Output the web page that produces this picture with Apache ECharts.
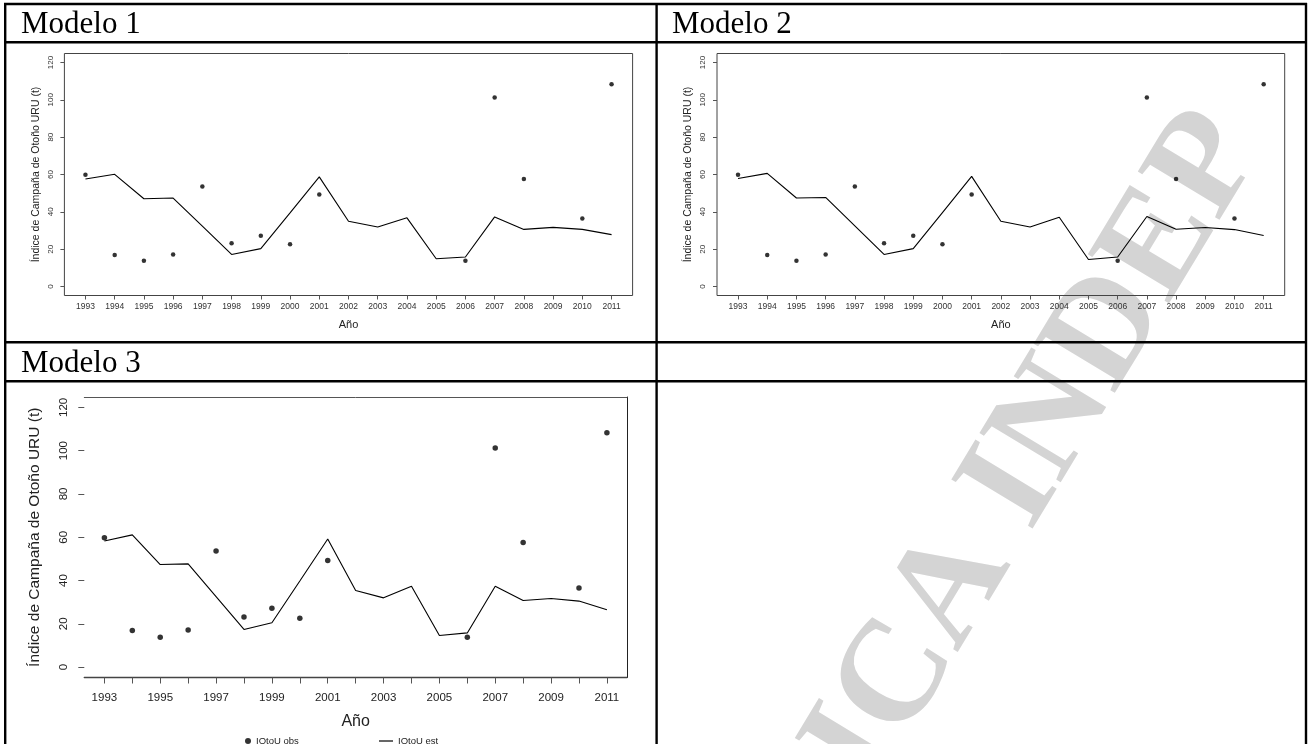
<!DOCTYPE html>
<html>
<head>
<meta charset="utf-8">
<script src="https://cdn.jsdelivr.net/npm/echarts@6/dist/echarts.min.js"></script>
<style>
  html, body { margin: 0; padding: 0; background: #fff; }
  #main { width: 1309px; height: 744px; }
</style>
</head>
<body>
<div id="main"></div>
<script>
// Años de campaña (eje X)
const years = [1993, 1994, 1995, 1996, 1997, 1998, 1999, 2000, 2001, 2002,
               2003, 2004, 2005, 2006, 2007, 2008, 2009, 2010, 2011];
// Etiquetas del eje X del modelo 3 (años alternos)
const yearsOdd = [1993, 1995, 1997, 1999, 2001, 2003, 2005, 2007, 2009, 2011];
// Marcas del eje Y
const yTicks = [0, 20, 40, 60, 80, 100, 120];

// Índice observado (t); null = año sin campaña
const obs = [59.8, 16.9, 13.8, 17.2, 53.6, 23.2, 27.2, 22.6, 49.3, null,
             null, null, null, 13.8, 101.2, 57.6, null, 36.5, 108.3];

// Índice estimado por cada modelo (t)
const estM1 = [57.6, 60.1, 47.0, 47.4, 32.4, 17.2, 20.3, 39.4, 58.7, 35.0,
               31.9, 36.8, 14.9, 15.8, 37.3, 30.6, 31.7, 30.6, 27.8];
const estM2 = [57.9, 60.6, 47.4, 47.7, 32.5, 17.2, 20.3, 39.6, 59.0, 35.0,
               31.9, 37.1, 14.5, 15.8, 37.5, 30.7, 31.6, 30.5, 27.3];
const estM3 = [58.3, 61.1, 47.4, 47.7, 32.6, 17.4, 20.5, 39.8, 59.2, 35.4,
               32.0, 37.4, 14.6, 15.8, 37.4, 30.8, 31.7, 30.5, 26.5];

const headers = ['Modelo 1', 'Modelo 2', 'Modelo 3'];
const yTitle = 'Índice de Campaña de Otoño URU (t)';
const xTitle = 'Año';
const obsName = 'IOtoU obs';
const estName = 'IOtoU est';
const watermark = 'PÚBLICA INDEP';

const SANS = '"Liberation Sans", Arial, sans-serif';
const SERIF = '"Liberation Serif", "Times New Roman", serif';

// R-style axis padding: 4% on each side of the data range
const xMin = 1993 - 0.04 * 18, xMax = 2011 + 0.04 * 18;
const yMin = 0 - 0.04 * 120, yMax = 120 + 0.04 * 120;

const pairs = (vals) => years.map((y, i) => [y, vals[i]]).filter(p => p[1] !== null);

// Panel layout and text sizes
const panels = [
  { grid: { left: 64.4, top: 53.5, width: 568.2, height: 242 }, est: estM1, labels: years, small: true },
  { grid: { left: 717, top: 53.5, width: 567.7, height: 242 }, est: estM2, labels: years, small: true },
  { grid: { left: 84.3, top: 397, width: 542.7, height: 280.5 }, est: estM3, labels: yearsOdd, small: false }
];

const grids = [], xAxes = [], yAxes = [], series = [];

panels.forEach((p, i) => {
  const s = p.small;
  grids.push(Object.assign({
    show: s, borderColor: '#444', borderWidth: 1, backgroundColor: 'transparent', containLabel: false
  }, p.grid));

  xAxes.push({
    type: 'value', gridIndex: i, min: xMin, max: xMax, position: 'bottom',
    axisLine: { show: !s, onZero: false, lineStyle: { color: '#444', width: 1.4 } },
    axisTick: { show: true, customValues: years, length: s ? 4 : 6, lineStyle: { color: '#555' } },
    axisLabel: {
      customValues: p.labels, formatter: v => String(v),
      fontFamily: SANS, fontSize: s ? 8.5 : 11.5, color: s ? '#333' : '#222', margin: s ? 7 : 14
    },
    splitLine: { show: false },
    name: xTitle, nameLocation: 'middle', nameGap: s ? 24 : 36,
    nameTextStyle: { fontFamily: SANS, fontSize: s ? 11 : 16, color: '#222' }
  });

  yAxes.push({
    type: 'value', gridIndex: i, min: yMin, max: yMax, position: 'left',
    axisLine: { show: false, onZero: false },
    axisTick: { show: true, customValues: yTicks, length: s ? 4 : 6, lineStyle: { color: '#555' } },
    axisLabel: {
      customValues: yTicks, rotate: 90,
      fontFamily: SANS, fontSize: s ? 8 : 11.5, color: s ? '#333' : '#222', margin: s ? 10 : 14
    },
    splitLine: { show: false },
    name: yTitle, nameLocation: 'middle', nameRotate: 90, nameGap: s ? 23 : 42,
    nameTextStyle: { fontFamily: SANS, fontSize: s ? 10.5 : 15.5, color: '#222' }
  });

  series.push({
    type: 'scatter', name: obsName, xAxisIndex: i, yAxisIndex: i,
    data: pairs(obs), symbol: 'circle', symbolSize: s ? 4.5 : 5.5,
    itemStyle: { color: '#000' }, z: 4, silent: true
  });
  series.push({
    type: 'line', name: estName, xAxisIndex: i, yAxisIndex: i,
    data: pairs(p.est), symbol: 'none', showSymbol: false,
    lineStyle: { color: '#000', width: 1.1 }, itemStyle: { color: '#000' },
    z: 3, silent: true
  });
});

// Modelo 3: frame on top and right only (the bottom is the x axis line)
xAxes.push({
  type: 'value', gridIndex: 2, min: xMin, max: xMax, position: 'top',
  axisLine: { show: true, onZero: false, lineStyle: { color: '#555', width: 1 } },
  axisTick: { show: false }, axisLabel: { show: false }, splitLine: { show: false }
});
yAxes.push({
  type: 'value', gridIndex: 2, min: yMin, max: yMax, position: 'right',
  axisLine: { show: true, onZero: false, lineStyle: { color: '#222', width: 1 } },
  axisTick: { show: false }, axisLabel: { show: false }, splitLine: { show: false }
});

// Watermark placement: centre of the "C" of "...ICA" sits near (850, 668)
const wmSize = 145;
const wmFont = 'bold ' + wmSize + 'px ' + SERIF;
const mctx = document.createElement('canvas').getContext('2d');
mctx.font = wmFont;
const pre = mctx.measureText('PÚBLI').width + mctx.measureText('C').width / 2;
const wmAng = 58.8 * Math.PI / 180;
const ux = Math.cos(wmAng), uy = -Math.sin(wmAng);      // reading direction
const dx = Math.sin(wmAng), dy = Math.cos(wmAng);       // towards the glyph baseline
const k = wmSize / 140;
const wmX = 850 - (pre - 15 * k) * ux + 0.32 * wmSize * dx;
const wmY = 668 - (pre - 15 * k) * uy + 0.32 * wmSize * dy;

// Table frame
const B = { stroke: '#000', lineWidth: 2.4 };
const hLine = (y, x1, x2) => ({ type: 'line', shape: { x1: x1, y1: y, x2: x2, y2: y }, style: B, z: 10, silent: true });
const vLine = (x, y1, y2) => ({ type: 'line', shape: { x1: x, y1: y1, x2: x, y2: y2 }, style: B, z: 10, silent: true });
const header = (txt, x, y) => ({
  type: 'text', x: x, y: y, z: 10, silent: true,
  style: { text: txt, font: '31px ' + SERIF, fill: '#000', textAlign: 'left', textVerticalAlign: 'middle' }
});

const graphics = [
  {
    type: 'text', x: wmX, y: wmY, rotation: wmAng, z: -10, silent: true,
    style: { text: watermark, font: wmFont, fill: '#d4d4d4', textAlign: 'left', textVerticalAlign: 'middle' }
  },
  hLine(4, 4, 1307), hLine(42.3, 4, 1307), hLine(342.3, 4, 1307), hLine(381.3, 4, 1307),
  vLine(5.2, 3, 744), vLine(656.6, 3, 744), vLine(1306, 3, 744),
  header(headers[0], 21, 25), header(headers[1], 672, 25), header(headers[2], 21, 364)
];

const chart = echarts.init(document.getElementById('main'), null, { renderer: 'canvas' });
chart.setOption({
  animation: false,
  backgroundColor: '#fff',
  grid: grids,
  xAxis: xAxes,
  yAxis: yAxes,
  legend: [
    {
      left: 240, top: 731, orient: 'horizontal', selectedMode: false,
      itemWidth: 6, itemHeight: 6, itemGap: 0,
      textStyle: { fontFamily: SANS, fontSize: 9.5, color: '#222' },
      data: [{ name: obsName, icon: 'circle', itemStyle: { color: '#000' } }]
    },
    {
      left: 374, top: 731, orient: 'horizontal', selectedMode: false,
      itemWidth: 14, itemHeight: 1.2, itemGap: 0,
      textStyle: { fontFamily: SANS, fontSize: 9.5, color: '#222' },
      data: [{ name: estName, icon: 'rect', itemStyle: { color: '#000' } }]
    }
  ],
  graphic: { elements: graphics },
  series: series
});
</script>
</body>
</html>
